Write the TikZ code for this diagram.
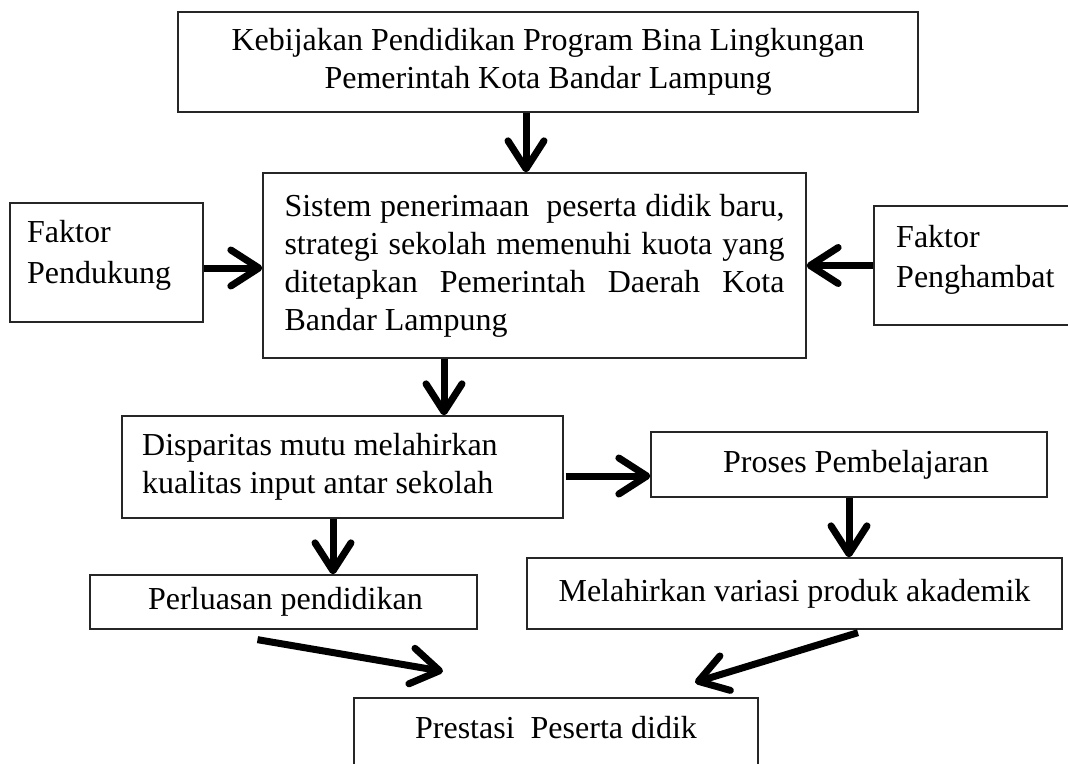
\documentclass[tikz,border=0pt]{standalone}
\usepackage{fontspec}
\setmainfont{Liberation Serif}
\usetikzlibrary{arrows.meta,calc}
\begin{document}
\begin{tikzpicture}[x=1pt,y=-1pt,
  font=\fontsize{32}{38}\selectfont,
  box/.style={draw=black!85, line width=1.3pt, rectangle, inner sep=0pt},
  txt/.style={inner sep=0pt},
  arr/.style={line width=7pt, -{Straight Barb[length=28pt,width=36pt,round]}}]
\useasboundingbox (0,0) rectangle (1068,763);
\clip (0,0) rectangle (1068,763);
% boxes
\node[box, minimum width=740pt, minimum height=100pt, align=center] (top) at (548,62)
  {Kebijakan Pendidikan Program Bina Lingkungan\\Pemerintah Kota Bandar Lampung};
\node[box, minimum width=543pt, minimum height=185pt, text width=500pt, align=justify] (mid) at (534.5,265.5)
  {Sistem penerimaan\ \ peserta didik baru,\linebreak strategi sekolah memenuhi kuota yang\linebreak ditetapkan Pemerintah Daerah Kota\linebreak Bandar Lampung};
\node[box, minimum width=193pt, minimum height=119pt] (fp) at (106.5,262.5) {};
\node[txt, anchor=west, align=left, font=\fontsize{32}{41}\selectfont] (fpt) at (27,255) {Faktor\\Pendukung};
\node[box, minimum width=210pt, minimum height=119pt] (fh) at (979,265.5) {};
\node[txt, anchor=west, align=left, font=\fontsize{32}{40}\selectfont] (fht) at (896,260) {Faktor\\Penghambat};
\node[box, minimum width=441pt, minimum height=102pt] (disp) at (342.5,467) {};
\node[txt, anchor=west, align=left] (dispt) at (142,467) {Disparitas mutu melahirkan\\kualitas input antar sekolah};
\node[box, minimum width=396pt, minimum height=65pt] (pros) at (849,464.5) {};
\node[txt] (prost) at (856,464.5) {Proses Pembelajaran};
\node[box, minimum width=535pt, minimum height=71pt] (mel) at (794.5,593.5) {Melahirkan variasi produk akademik};
\node[box, minimum width=387pt, minimum height=54pt] (perl) at (283.5,602) {};
\node[txt, anchor=west] (perlt) at (148,602) {Perluasan pendidikan};
\node[box, minimum width=404pt, minimum height=92pt] (prest) at (556,744) {};
\node[txt] (prestt) at (556,728) {Prestasi\ \ Peserta didik};
% connectors
\coordinate (t1) at ([xshift=-22pt]top.south);
\draw[arr] (t1) -- (t1 |- mid.north);
\coordinate (l1) at ([yshift=-5.5pt]fp.east);
\draw[arr] (l1) -- (l1 -| mid.west);
\draw[arr] (fh.west) -- (fh.west -| mid.east);
\coordinate (m1) at ([xshift=-90.5pt]mid.south);
\draw[arr] (m1) -- (m1 |- disp.north);
\coordinate (d1) at ([xshift=2pt,yshift=-9pt]disp.east);
\draw[arr] (d1) -- (d1 -| pros.west);
\coordinate (d2) at ([xshift=-9.5pt]disp.south);
\draw[arr] (d2) -- (d2 |- perl.north);
\draw[arr] (pros.south) -- (pros.south |- mel.north);
\coordinate (p1) at ([shift={(-26pt,-10pt)}]perl.south);
\coordinate (p2) at ([shift={(-113pt,26pt)}]prest.north);
\draw[arr] (p1) -- (p2);
\coordinate (q1) at ([shift={(63.5pt,-3pt)}]mel.south);
\coordinate (q2) at ([shift={(139pt,15pt)}]prest.north);
\draw[arr] (q1) -- (q2);
\end{tikzpicture}
\end{document}
